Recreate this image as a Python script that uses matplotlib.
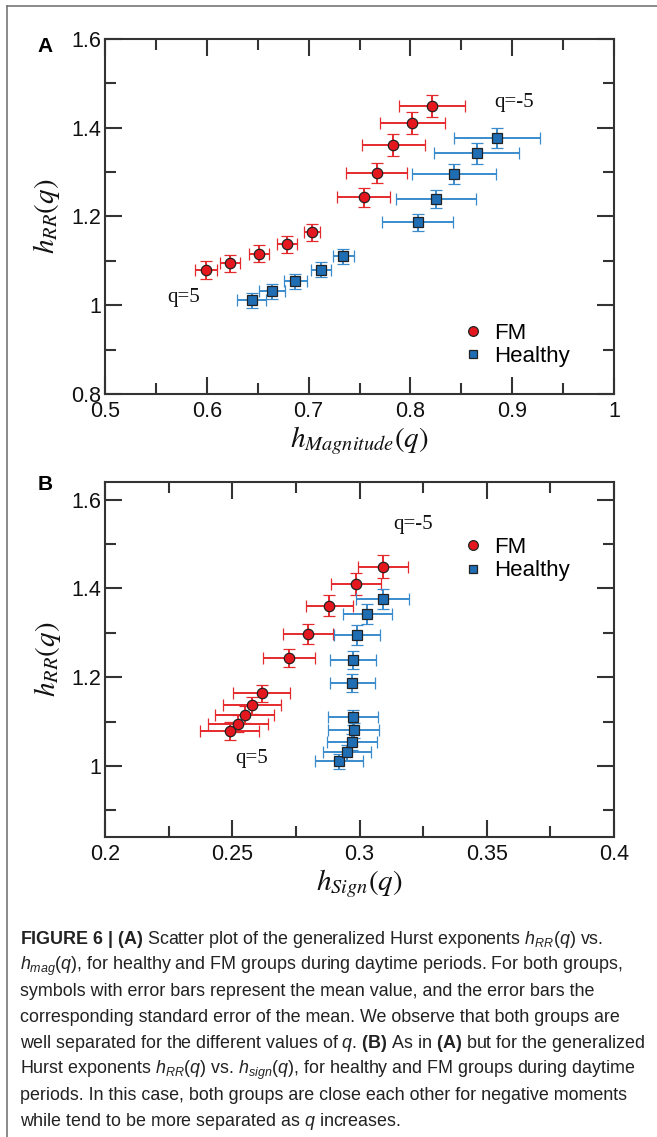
import matplotlib
matplotlib.use("Agg")
import matplotlib.pyplot as plt
from matplotlib import font_manager
from matplotlib.lines import Line2D
from matplotlib.ticker import MultipleLocator, FormatStrFormatter

# ---------------- DATA ----------------
q_vals = [5, 4, 3, 2, 1, -1, -2, -3, -4, -5]

# h_RR(q), same for both panels
h_rr_fm = [1.079, 1.095, 1.116, 1.137, 1.164, 1.243, 1.298, 1.361, 1.411, 1.449]
h_rr_fm_err = [0.020, 0.019, 0.019, 0.019, 0.0195, 0.021, 0.023, 0.024, 0.025, 0.0255]
h_rr_h = [1.011, 1.031, 1.054, 1.080, 1.110, 1.187, 1.239, 1.296, 1.342, 1.377]
h_rr_h_err = [0.017, 0.017, 0.017, 0.017, 0.017, 0.0195, 0.0205, 0.0225, 0.023, 0.0225]

# panel A: h_Magnitude(q)
h_mag_fm = [0.599, 0.623, 0.651, 0.679, 0.703, 0.754, 0.767, 0.783, 0.802, 0.821]
h_mag_fm_err = [0.011, 0.010, 0.010, 0.010, 0.008, 0.026, 0.030, 0.031, 0.032, 0.0325]
h_mag_h = [0.644, 0.664, 0.687, 0.712, 0.734, 0.807, 0.825, 0.843, 0.865, 0.885]
h_mag_h_err = [0.0145, 0.013, 0.011, 0.010, 0.0105, 0.035, 0.039, 0.041, 0.042, 0.0426]

# panel B: h_Sign(q)
h_sign_fm = [0.249, 0.2523, 0.2549, 0.2577, 0.2615, 0.2724, 0.2796, 0.2881, 0.2985, 0.3094]
h_sign_fm_err = [0.0115, 0.0118, 0.0117, 0.0115, 0.0113, 0.0103, 0.0098, 0.0093, 0.0098, 0.0098]
h_sign_h = [0.2919, 0.2951, 0.2970, 0.2977, 0.2973, 0.2972, 0.2974, 0.2991, 0.3031, 0.3091]
h_sign_h_err = [0.0095, 0.0095, 0.0098, 0.0099, 0.0098, 0.0089, 0.009, 0.009, 0.0095, 0.0103]

caption_lines = [
    r"$\mathbf{FIGURE\ 6\ |\ (A)}$ Scatter plot of the generalized Hurst exponents $h_{RR}(q)$ vs.",
    r"$h_{mag}(q)$, for healthy and FM groups during daytime periods. For both groups,",
    "symbols with error bars represent the mean value, and the error bars the",
    "corresponding standard error of the mean. We observe that both groups are",
    r"well separated for the different values of $q$. $\mathbf{(B)}$ As in $\mathbf{(A)}$ but for the generalized",
    r"Hurst exponents $h_{RR}(q)$ vs. $h_{sign}(q)$, for healthy and FM groups during daytime",
    "periods. In this case, both groups are close each other for negative moments",
    r"while tend to be more separated as $q$ increases.",
]

# ---------------- STYLE ----------------
avail = {f.name for f in font_manager.fontManager.ttflist}
cap_font = "Liberation Sans Narrow" if "Liberation Sans Narrow" in avail else "Liberation Sans"

plt.rcParams["font.family"] = ["Liberation Sans", "DejaVu Sans"]
plt.rcParams["mathtext.fontset"] = "custom"
plt.rcParams["mathtext.rm"] = cap_font
plt.rcParams["mathtext.it"] = cap_font + ":italic"
plt.rcParams["mathtext.bf"] = cap_font + ":bold"

RED = "#e3171d"
RED_ERR = "#e52a2e"
BLUE = "#1f6db3"
BLUE_ERR = "#3a8bcc"
EDGE = "#222222"
AXC = "#333333"

W, H = 657, 1137
fig = plt.figure(figsize=(W / 100, H / 100), dpi=100)

# frame lines of the page
fig.add_artist(Line2D([7 / W, 7 / W], [0, 1 - 6 / H], color="#777777", lw=1.2))
fig.add_artist(Line2D([7 / W, 1], [1 - 6 / H, 1 - 6 / H], color="#777777", lw=1.2))


def px_axes(left, top, right, bottom):
    return fig.add_axes([left / W, 1 - bottom / H, (right - left) / W, (bottom - top) / H])


def style_axes(ax, xmaj, xmin, ymaj, ymin):
    ax.xaxis.set_major_locator(MultipleLocator(xmaj))
    ax.xaxis.set_minor_locator(MultipleLocator(xmin))
    ax.yaxis.set_major_locator(MultipleLocator(ymaj))
    ax.yaxis.set_minor_locator(MultipleLocator(ymin))
    ax.xaxis.set_major_formatter(FormatStrFormatter("%g"))
    ax.yaxis.set_major_formatter(FormatStrFormatter("%g"))
    ax.tick_params(which="both", direction="in", top=True, right=True,
                   width=1.5, color=AXC, labelsize=15.5, labelcolor="#111111")
    ax.tick_params(which="major", length=12)
    ax.tick_params(which="minor", length=8)
    ax.tick_params(axis="x", pad=5)
    ax.tick_params(axis="y", pad=3)
    for s in ax.spines.values():
        s.set_linewidth(1.5)
        s.set_color(AXC)


def draw_groups(ax, x_fm, x_fm_err, x_h, x_h_err):
    ax.errorbar(x_fm, h_rr_fm, xerr=x_fm_err, yerr=h_rr_fm_err, fmt="o",
                ms=7.5, mfc=RED, mec=EDGE, mew=0.9, ecolor=RED_ERR,
                elinewidth=1.4, capsize=4.3, capthick=1.4, zorder=3)
    ax.errorbar(x_h, h_rr_h, xerr=x_h_err, yerr=h_rr_h_err, fmt="s",
                ms=6.5, mfc=BLUE, mec=EDGE, mew=0.9, ecolor=BLUE_ERR,
                elinewidth=1.4, capsize=4.3, capthick=1.4, zorder=3)


def add_legend(ax, y_center):
    handles = [
        Line2D([], [], ls="none", marker="o", ms=7, mfc=RED, mec=EDGE, mew=0.9),
        Line2D([], [], ls="none", marker="s", ms=6, mfc=BLUE, mec=EDGE, mew=0.9),
    ]
    ax.legend(handles, ["FM", "Healthy"], loc="center left",
              bbox_to_anchor=(0.701, y_center), frameon=False, fontsize=16,
              handlelength=1.0, handletextpad=0.45, labelspacing=0.1,
              borderpad=0, borderaxespad=0)


label_kw = dict(fontsize=21, math_fontfamily="stix", color="#111111")
note_kw = dict(fontsize=15, family="Liberation Serif", color="#111111",
               ha="center", va="center")

# ---------------- PANEL A ----------------
ax1 = px_axes(105, 39, 614, 394)
draw_groups(ax1, h_mag_fm, h_mag_fm_err, h_mag_h, h_mag_h_err)
ax1.set_xlim(0.5, 1.0)
ax1.set_ylim(0.8, 1.6)
style_axes(ax1, 0.1, 0.05, 0.2, 0.1)
ax1.set_xlabel(r"$h_{Magnitude}(q)$", labelpad=2, **label_kw)
ax1.set_ylabel(r"$h_{RR}(q)$", labelpad=6, **label_kw)
ax1.text(0.902, 1.458, "q=-5", **note_kw)
ax1.text(0.5775, 1.018, "q=5", **note_kw)
add_legend(ax1, 0.139)
fig.text(45 / W, 1 - 46 / H, "A", fontsize=15, fontweight="bold", ha="center", va="center")

# ---------------- PANEL B ----------------
ax2 = px_axes(105, 482, 614, 837)
draw_groups(ax2, h_sign_fm, h_sign_fm_err, h_sign_h, h_sign_h_err)
ax2.set_xlim(0.2, 0.4)
ax2.set_ylim(0.84, 1.64)
style_axes(ax2, 0.05, 0.025, 0.2, 0.1)
ax2.set_xlabel(r"$h_{Sign}(q)$", labelpad=2, **label_kw)
ax2.set_ylabel(r"$h_{RR}(q)$", labelpad=6, **label_kw)
ax2.text(0.3211, 1.545, "q=-5", **note_kw)
ax2.text(0.2575, 1.0174, "q=5", **note_kw)
add_legend(ax2, 0.7825)
fig.text(45 / W, 1 - 484 / H, "B", fontsize=15, fontweight="bold", ha="center", va="center")

# ---------------- CAPTION ----------------
for i, line in enumerate(caption_lines):
    fig.text(20 / W, 1 - (944 + 26 * i) / H, line, fontsize=12.9,
             family=cap_font, color="#222222", ha="left", va="baseline")

fig.savefig("out.png", dpi=100)
